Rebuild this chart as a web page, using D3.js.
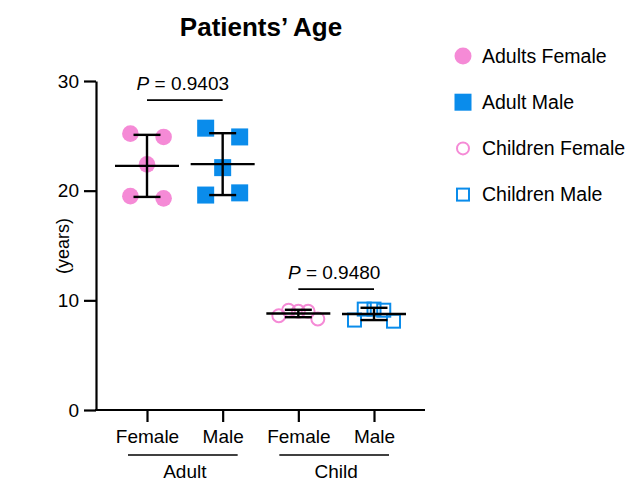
<!DOCTYPE html>
<html><head><meta charset="utf-8">
<script src="https://cdn.jsdelivr.net/npm/d3@7"></script>
<style>body{margin:0;background:#fff}svg{font-family:"Liberation Sans",Arial,Helvetica,sans-serif}</style>
</head><body><svg id="c" width="629" height="481"></svg>
<script>
const categories = ["Female","Male","Female ","Male "];
const groups = [{name:"Adult", cats:[0,1]},{name:"Child", cats:[2,3]}];
const seriesNames = ["Adults Female","Adult Male","Children Female","Children Male"];
const adultFemale = [25.2, 24.9, 22.4, 19.5, 19.3];
const adultMale = [25.7, 24.9, 22.1, 19.6, 19.8];
const childFemale = [8.6, 9.1, 9.0, 9.0, 8.3];
const childMale = [8.2, 9.2, 9.2, 9.1, 8.1];
const yTicks = [0, 10, 20, 30];
const pValues = [{text:"0.9403", from:0, to:1}, {text:"0.9480", from:2, to:3}];

const pink = "#F58AD6", blue = "#0A8CEB";
const series = [
  {name:seriesNames[0], values:adultFemale, shape:"circle", fill:true, color:pink, size:8.3},
  {name:seriesNames[1], values:adultMale, shape:"square", fill:true, color:blue, size:8.5},
  {name:seriesNames[2], values:childFemale, shape:"circle", fill:false, color:pink, size:7.5},
  {name:seriesNames[3], values:childMale, shape:"square", fill:false, color:blue, size:7.5}
];

const svg = d3.select("#c");
const y = d3.scaleLinear().domain([0,30]).range([410,81]);
const x = d3.scalePoint().domain(categories).range([147,374]);

// title
svg.append("text").attr("x",261).attr("y",36).attr("text-anchor","middle")
  .attr("font-size",26).attr("font-weight","bold").text("Patients’ Age");

// y axis
const ya = svg.append("g").attr("transform","translate(96,0)")
  .call(d3.axisLeft(y).tickValues(yTicks).tickSize(12).tickSizeOuter(0).tickPadding(5));
ya.select(".domain").attr("stroke-width",2.2);
ya.selectAll(".tick line").attr("stroke-width",2.2);
ya.selectAll(".tick text").attr("font-size",19).attr("fill","#000").attr("font-family","Liberation Sans, Arial, sans-serif");

svg.append("text").attr("transform","translate(69,246) rotate(-90)").attr("text-anchor","middle")
  .attr("font-size",18).text("(years)");

// x axis
svg.append("line").attr("x1",95).attr("x2",425).attr("y1",410).attr("y2",410).attr("stroke","#000").attr("stroke-width",2.2);
const xa = svg.append("g").attr("transform","translate(0,410)")
  .call(d3.axisBottom(x).tickSize(12).tickSizeOuter(0).tickPadding(8));
xa.select(".domain").remove();
xa.selectAll(".tick line").attr("stroke-width",2.2);
xa.selectAll(".tick text").attr("font-size",19).attr("fill","#000").attr("font-family","Liberation Sans, Arial, sans-serif");

groups.forEach(g=>{
  const x0 = x(categories[g.cats[0]]), x1 = x(categories[g.cats[1]]);
  svg.append("line").attr("x1",x0-19).attr("x2",x1+15).attr("y1",455).attr("y2",455).attr("stroke","#000").attr("stroke-width",1.6);
  svg.append("text").attr("x",(x0+x1)/2).attr("y",478).attr("text-anchor","middle").attr("font-size",19).text(g.name);
});

// points with prism-like row spreading
function spread(vals, diam, maxW){
  const idx = vals.map((v,i)=>i).sort((a,b)=>vals[a]-vals[b]);
  const rows = []; let cur = [];
  idx.forEach(i=>{
    if (cur.length && Math.abs(y(vals[i])-y(vals[cur[0]]))>=diam){ rows.push(cur); cur=[]; }
    cur.push(i);
  });
  if (cur.length) rows.push(cur);
  const off = new Array(vals.length).fill(0);
  rows.forEach(r=>{
    r.sort((a,b)=>a-b);
    const n=r.length; if(n<2) return;
    const sp = Math.min(diam*2, maxW/(n-1));
    r.forEach((i,k)=>{ off[i]=(k-(n-1)/2)*sp; });
  });
  return off;
}

function drawMarker(g, s, cx, cy){
  if (s.shape==="circle"){
    g.append("circle").attr("cx",cx).attr("cy",cy).attr("r", s.fill? s.size : s.size-1)
      .attr("fill", s.fill? s.color : "none").attr("stroke", s.fill? "none" : s.color).attr("stroke-width",2);
  } else {
    const h = s.fill? s.size : s.size-1;
    g.append("rect").attr("x",cx-h).attr("y",cy-h).attr("width",2*h).attr("height",2*h)
      .attr("fill", s.fill? s.color : "none").attr("stroke", s.fill? "none" : s.color).attr("stroke-width",2);
  }
}

series.forEach((s,si)=>{
  const cx = x(categories[si]);
  const off = spread(s.values, 2*s.size, 39);
  const g = svg.append("g");
  s.values.forEach((v,i)=> drawMarker(g, s, cx+off[i], y(v)));
  const m = d3.mean(s.values), sd = d3.deviation(s.values);
  const e = svg.append("g").attr("stroke","#000").attr("stroke-width",2.4);
  e.append("line").attr("x1",cx-32).attr("x2",cx+32).attr("y1",y(m)).attr("y2",y(m));
  e.append("line").attr("x1",cx).attr("x2",cx).attr("y1",y(m+sd)).attr("y2",y(m-sd));
  [m+sd, m-sd].forEach(v=> e.append("line").attr("x1",cx-13.5).attr("x2",cx+13.5).attr("y1",y(v)).attr("y2",y(v)));
});

// p-value brackets
pValues.forEach(p=>{
  const x0 = x(categories[p.from]), x1 = x(categories[p.to]);
  const top = Math.max(...series[p.from].values, ...series[p.to].values);
  const by = y(top) - (p.from===0 ? 28 : 20);
  svg.append("line").attr("x1",x0).attr("x2",x1).attr("y1",by).attr("y2",by).attr("stroke","#000").attr("stroke-width",1.8);
  const t = svg.append("text").attr("x",(x0+x1)/2-2).attr("y",by-10).attr("text-anchor","middle").attr("font-size",19);
  t.append("tspan").attr("font-style","italic").text("P");
  t.append("tspan").text(" = "+p.text);
});

// legend
const lg = svg.append("g");
series.forEach((s,i)=>{
  const ly = 56 + i*46.2;
  drawMarker(lg, {...s, size: s.fill? 8.5: 7}, 463, ly);
  lg.append("text").attr("x",482).attr("y",ly).attr("dy","0.35em").attr("font-size",19.5).text(s.name);
});
</script></body></html>
